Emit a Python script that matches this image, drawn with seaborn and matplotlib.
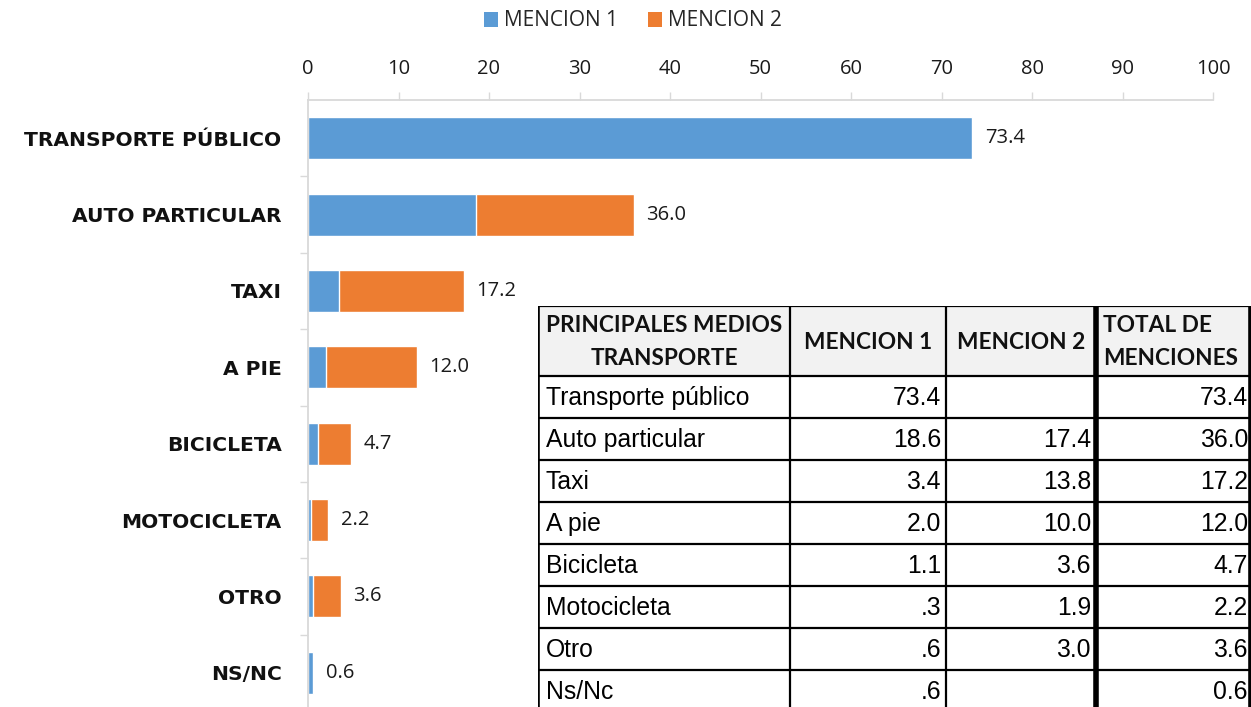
import matplotlib
matplotlib.use("Agg")
import matplotlib.pyplot as plt
from matplotlib.patches import Patch, Rectangle
import seaborn as sns
import pandas as pd

categories = ["TRANSPORTE PÚBLICO", "AUTO PARTICULAR", "TAXI", "A PIE",
              "BICICLETA", "MOTOCICLETA", "OTRO", "NS/NC"]
table_names = ["Transporte público", "Auto particular", "Taxi", "A pie",
               "Bicicleta", "Motocicleta", "Otro", "Ns/Nc"]
mencion1 = [73.4, 18.6, 3.4, 2.0, 1.1, 0.3, 0.6, 0.6]
mencion2 = [0.0, 17.4, 13.8, 10.0, 3.6, 1.9, 3.0, 0.0]
totals = [73.4, 36.0, 17.2, 12.0, 4.7, 2.2, 3.6, 0.6]
x_ticks = [0, 10, 20, 30, 40, 50, 60, 70, 80, 90, 100]
series_names = ["MENCION 1", "MENCION 2"]
header = ["PRINCIPALES MEDIOS\nTRANSPORTE", "MENCION 1", "MENCION 2", "TOTAL DE\nMENCIONES"]

BLUE = "#5B9BD5"
ORANGE = "#ED7D31"

sns.set_theme(style="white")
plt.rcParams["font.family"] = ["Open Sans", "DejaVu Sans"]

W, H = 1251, 707
fig = plt.figure(figsize=(W / 100, H / 100), dpi=100)

def fx(px):
    return px / W

def fy(py):
    return 1 - py / H

# main chart axes: x 308..1213, y 100..711
ax = fig.add_axes([fx(308), fy(711), fx(1213) - fx(308), fy(100) - fy(711)])

df = pd.DataFrame({"cat": categories, "m1": mencion1, "tot": totals})
sns.barplot(data=df, y="cat", x="tot", color=ORANGE, saturation=1, width=0.55,
            ax=ax, orient="h")
sns.barplot(data=df, y="cat", x="m1", color=BLUE, saturation=1, width=0.55,
            ax=ax, orient="h")

ax.set_xlim(0, 100)
ax.set_ylim(len(categories) - 0.5, -0.5)
ax.set_xlabel("")
ax.set_ylabel("")
ax.xaxis.tick_top()
ax.set_xticks(x_ticks)
ax.set_xticklabels([str(t) for t in x_ticks], fontsize=14.5, color="#1a1a1a")
ax.tick_params(axis="x", which="major", length=6, width=1, color="#d9d9d9",
               pad=9, direction="out", top=True, bottom=False)

for s in ["right", "bottom"]:
    ax.spines[s].set_visible(False)
for s in ["top", "left"]:
    ax.spines[s].set_color("#d9d9d9")
    ax.spines[s].set_linewidth(1.3)

ax.set_yticks(range(len(categories)))
ax.set_yticklabels(categories, fontsize=14.6, fontweight="bold", color="#111111",
                   family=["DejaVu Sans"])
ax.tick_params(axis="y", which="major", length=0, pad=19)
ax.set_yticks([i + 0.5 for i in range(len(categories) - 1)], minor=True)
ax.tick_params(axis="y", which="minor", length=6, width=1, color="#d9d9d9",
               direction="out", left=True)

for i, t in enumerate(totals):
    ax.text(t + 1.4, i, f"{t:.1f}", va="center", ha="left", fontsize=14.5,
            color="#1a1a1a")

handles = [Patch(facecolor=BLUE, edgecolor="none"), Patch(facecolor=ORANGE, edgecolor="none")]
fig.legend(handles, series_names, loc="center", bbox_to_anchor=(fx(633), fy(21)),
           ncol=2, frameon=False, fontsize=15, handlelength=0.7, handleheight=0.7,
           handletextpad=0.3, columnspacing=1.4)

# table axes in pixel coordinates
tx0, tx1, ty0, ty1 = 538, 1251, 306, 712
tax = fig.add_axes([fx(tx0), fy(ty1), fx(tx1) - fx(tx0), fy(ty0) - fy(ty1)])
tax.set_xlim(tx0, tx1)
tax.set_ylim(ty1, ty0)
tax.axis("off")

col_edges = [538, 790, 946, 1096, 1250]
row_edges = [306, 376] + [376 + 42 * (i + 1) for i in range(len(table_names))]

tax.add_patch(Rectangle((538, 306), 1251 - 538, 70, facecolor="#f2f2f2",
                        edgecolor="none", zorder=0))
tax.add_patch(Rectangle((538, 376), 1251 - 538, 712 - 376, facecolor="white",
                        edgecolor="none", zorder=0))

for y in row_edges:
    tax.plot([538, 1251], [y, y], color="black", lw=1.6, zorder=2,
             solid_capstyle="butt")
for i, x in enumerate(col_edges):
    lw = 1.6
    if i == 0:
        lw = 2.6
    if i == 3:
        lw = 4.0
    if i == 4:
        lw = 2.6
    tax.plot([x, x], [306, 712], color="black", lw=lw, zorder=2,
             solid_capstyle="butt")

hfont = dict(family=["Lato", "DejaVu Sans"], fontweight="bold", fontsize=16.3,
             color="#111111", linespacing=1.65)
tax.text((790 + 538) / 2, 342, header[0], ha="center", va="center", **hfont)
tax.text((946 + 790) / 2, 343, header[1], ha="center", va="center", **hfont)
tax.text((1096 + 946) / 2, 343, header[2], ha="center", va="center", **hfont)
tax.text(1103, 342, header[3], ha="left", va="center", **hfont)

def fmt_m1(v):
    s = f"{v:.1f}"
    return s[1:] if s.startswith("0") else s

def fmt_m2(v):
    return "" if v == 0 else f"{v:.1f}"

dfont = dict(family=["Liberation Sans", "DejaVu Sans"], fontsize=17.8, color="black")
for i, name in enumerate(table_names):
    yc = 376 + 42 * i + 22
    tax.text(546, yc, name, ha="left", va="center", **dfont)
    tax.text(941, yc, fmt_m1(mencion1[i]), ha="right", va="center", **dfont)
    tax.text(1091, yc, fmt_m2(mencion2[i]), ha="right", va="center", **dfont)
    tax.text(1248, yc, f"{totals[i]:.1f}", ha="right", va="center", **dfont)

fig.savefig("out.png", dpi=100)
